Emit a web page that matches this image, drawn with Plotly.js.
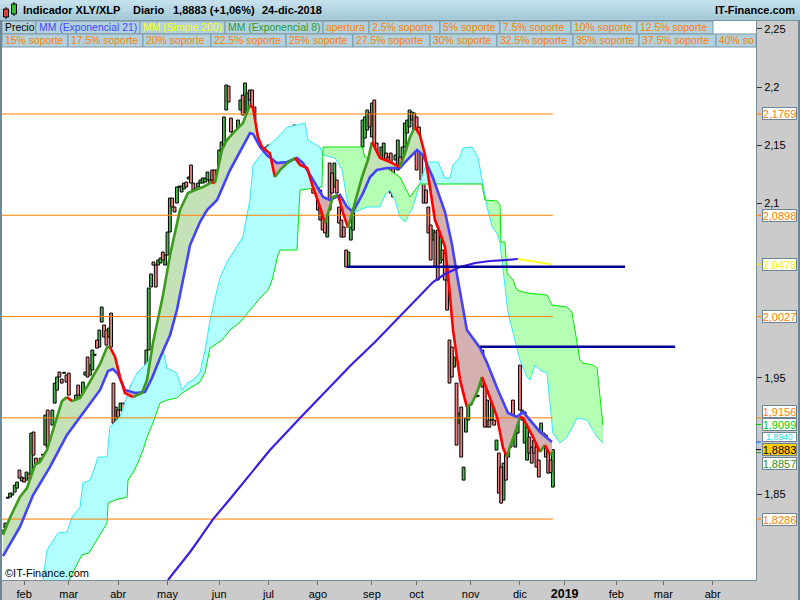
<!DOCTYPE html>
<html><head><meta charset="utf-8">
<script src="https://cdn.plot.ly/plotly-3.0.1.min.js"></script>
<style>html,body{margin:0;padding:0;background:#cbcbcb}#chart{width:800px;height:600px}</style>
</head><body><div id="chart"></div><script>
// ---------------- DATA ----------------
// daily bars, index 0 = 19-ene-2018 ... 234 = 24-dic-2018 (trading-day index)
const opens = [
1.8165,1.8208,1.8465,1.8475,1.8492,1.8518,1.8552,1.8707,1.8613,1.8638,
1.8621,1.8673,1.8638,1.9034,1.8810,1.8690,1.8810,1.8834,1.8922,1.9223,
1.8922,1.9094,1.9283,1.9395,1.9550,1.9490,1.9539,1.9524,1.9541,1.9223,
1.9206,1.9292,1.9438,1.9266,1.9266,1.9524,1.9679,1.9524,1.9567,1.9694,
1.9825,1.9765,1.9980,1.9954,1.9911,1.9851,2.0057,1.9455,1.9034,1.9223,
1.9223,1.9283,1.9223,1.9223,1.9283,1.9438,1.9395,1.9395,1.9335,1.9455,
1.9163,1.9567,1.9739,2.0281,2.0496,2.0470,2.0470,2.0487,2.0582,2.0470,
2.0556,2.0754,2.1046,2.0969,2.1003,2.1139,2.1098,2.1124,2.1184,2.1210,
2.1330,2.1175,2.1132,2.1141,2.1175,2.1175,2.1184,2.1201,2.1201,2.1287,
2.1287,2.1201,2.1313,2.1442,2.1485,2.1803,2.2009,2.1734,2.1614,2.1614,
2.1588,2.1803,2.1932,2.1777,2.1777,2.1975,2.1975,2.1829,2.1347,2.1055,
2.1330,2.1347,2.1313,2.1502,2.1390,2.1433,2.1003,2.1201,2.1347,2.1313,
2.1502,2.1373,2.1442,2.1442,2.1674,2.1227,2.1416,2.1373,2.1347,2.1261,
2.1201,2.1287,2.1261,2.1175,2.1201,2.1115,2.1029,2.0840,2.0711,2.1347,
2.1261,2.1141,2.1201,2.0969,2.0857,2.0797,2.0599,2.0453,2.0685,2.0771,
2.1115,2.1261,2.1175,2.1485,2.1562,2.1631,2.1777,2.1571,2.1889,2.1519,
2.1399,2.1347,2.1356,2.1433,2.1399,2.1433,2.1313,2.1373,2.1287,2.1399,
2.1347,2.1485,2.1605,2.1657,2.1717,2.1777,2.1743,2.1657,2.1459,2.1175,
2.1115,2.0969,2.0814,2.0685,2.0754,2.0771,2.0487,2.0599,2.0573,2.0341,
1.9825,1.9765,1.9593,1.9455,1.9111,1.9249,1.8621,1.9034,1.9137,1.9266,
1.9593,1.9567,1.9341,1.9481,1.9739,1.9593,1.9077,1.9137,1.9137,1.9137,
1.8879,1.8853,1.8733,1.8449,1.8939,1.8819,1.8905,1.9309,1.8905,1.9025,
1.9610,1.9223,1.8939,1.8793,1.8991,1.8905,1.8965,1.8905,1.8793,1.8879,
1.9025,1.9008,1.8965,1.8793,1.8561];
const closes = [
1.8191,1.8251,1.8470,1.8509,1.8509,1.8578,1.8604,1.8638,1.8647,1.8604,
1.8690,1.8638,1.9025,1.8836,1.8681,1.8776,1.8767,1.8838,1.9180,1.8896,
1.8853,1.9223,1.9455,1.9507,1.9507,1.9455,1.9543,1.9464,1.9352,1.9180,
1.9232,1.9352,1.9352,1.9352,1.9464,1.9550,1.9507,1.9610,1.9739,1.9698,
1.9756,1.9911,2.0109,1.9851,1.9782,1.9928,1.9765,1.9111,1.9249,1.9163,
1.9283,1.9206,1.9283,1.9180,1.9369,1.9335,1.9335,1.9455,1.9550,1.9197,
1.9481,1.9739,2.0272,2.0393,2.0470,2.0281,2.0513,2.0530,2.0513,2.0556,
2.0754,2.1046,2.0969,2.0926,2.1141,2.1143,2.1150,2.1175,2.1141,2.1227,
2.1175,2.1115,2.1055,2.1175,2.1201,2.1218,2.1218,2.1270,2.1175,2.1201,
2.1055,2.1287,2.1459,2.1528,2.1743,2.2018,2.1872,2.1614,2.1571,2.1571,
2.1717,2.1889,2.1760,2.2035,2.1949,2.1889,2.1743,2.1717,2.1003,2.1227,
2.1201,2.1201,2.1485,2.1373,2.1485,2.1201,2.1201,2.1347,2.1459,2.1502,
2.1390,2.1519,2.1373,2.1545,2.1485,2.1459,2.1330,2.1227,2.1201,2.1141,
2.1313,2.1201,2.1089,2.1287,2.0943,2.0857,2.0771,2.0746,2.0926,2.0943,
2.1089,2.1347,2.1089,2.0831,2.0711,2.0711,2.0453,2.0582,2.0797,2.0969,
2.1261,2.1089,2.1347,2.1717,2.1743,2.1803,2.1657,2.1863,2.1399,2.1347,
2.1261,2.1485,2.1519,2.1287,2.1330,2.1089,2.1055,2.1416,2.1545,2.1313,
2.1485,2.1691,2.1717,2.1803,2.1786,2.1631,2.1287,2.1502,2.1201,2.1003,
2.1003,2.0746,2.0513,2.0771,2.0453,2.0341,2.0711,2.0513,2.0341,2.0083,
1.9455,1.9507,1.9679,1.8922,1.9197,1.8819,1.8733,1.9154,1.9266,1.9369,
1.9369,1.9335,1.9345,1.9756,1.9421,1.9077,1.9309,1.9077,1.9369,1.9094,
1.8965,1.8509,1.8423,1.8767,1.8621,1.9025,1.9008,1.9111,1.9025,1.9137,
1.9223,1.9137,1.9206,1.9077,1.8853,1.8767,1.8853,1.8733,1.8647,1.9111,
1.8965,1.8819,1.8681,1.8685,1.8883];

// MM (Exponencial 8)
const ema8Idx = [0,3,7.2,10.2,13.6,15.7,18.7,22.1,25.1,27.2,29.4,32.8,36.2,41.3,44.3,45.5,47.7,49.8,51.9,55.3,
59.1,61.3,63.8,68.1,71.1,75.3,78.7,81.7,85.1,88.9,90.2,93.2,95.3,97.9,102.1,105.1,106.4,108.5,110.2,113.6,
115.7,117.9,120.9,124.3,126.4,129.4,131.9,134.9,137,138.3,140.4,142.6,144.7,146.8,148.9,152.8,155.3,157,160.4,164.7,
168.9,171.1,173.2,175.3,177.4,179.6,181.7,183.8,186,188.1,189.4,191.5,194.5,197.4,199.6,202.1,203.8,206,210.2,212.8,
214.5,215.7,217.9,220,221.3,225.5,228.5,230.6,232.8,234];
const ema8Val = [1.815,1.830,1.8476,1.8553,1.8751,1.8777,1.888,1.9112,1.930,1.9335,1.930,1.9327,1.9439,1.962,1.9765,1.9765,1.968,1.9507,1.937,1.9335,
1.937,1.9482,1.980,2.0212,2.0556,2.0943,2.109,2.1115,2.1141,2.1184,2.1175,2.146,2.1545,2.1605,2.1691,2.1846,2.182,2.157,2.1485,2.143,
2.1227,2.1287,2.1347,2.139,2.133,2.1305,2.1141,2.097,2.0831,2.0918,2.1055,2.1072,2.0918,2.079,2.0943,2.1227,2.1373,2.1528,2.139,2.1356,
2.1313,2.1433,2.1571,2.1657,2.1588,2.1416,2.1115,2.0857,2.0746,2.0625,2.0385,1.9911,1.948,1.9249,1.9284,1.9396,1.9507,1.9396,1.9164,1.8897,
1.882,1.8906,1.9026,1.9164,1.9155,1.8992,1.8862,1.8922,1.8837,1.8862];

// MM (Exponencial 21)
const ema21Idx = [0,7.2,12.8,20,27.2,34,41.3,44.7,46.8,48.9,51.9,56.2,60.4,63.4,66.8,71.1,74,79.6,83.8,86.8,
91.1,96.6,102.1,105.1,106.4,109.4,112.3,116.6,120.9,125.1,127.7,131.9,136.2,139.1,143.4,146.4,148.9,153.2,156.2,159.1,
163.4,168.9,171.9,176.2,178.7,183,188.1,191.1,193.2,197.4,203,206,210.6,214.9,218.7,221.3,224.3,228.5,233.6];
const ema21Val = [1.7968,1.8218,1.8493,1.8734,1.9009,1.9198,1.9396,1.9559,1.9576,1.9533,1.9396,1.9370,1.9378,1.9499,1.9671,1.9869,2.0083,2.0642,2.0840,2.0943,
2.1029,2.1287,2.1485,2.1605,2.1597,2.1485,2.1416,2.1347,2.1356,2.1390,2.1347,2.1201,2.1055,2.1029,2.1072,2.0969,2.0926,2.1089,2.1227,2.1287,
2.1304,2.1304,2.1373,2.1459,2.1416,2.1218,2.0926,2.0642,2.0384,1.9912,1.9757,1.9628,1.9396,1.9198,1.9164,1.9207,1.9138,1.9035,1.8949];

// MM (Simple 200)
const sma200Idx = [70.2,75.3,79.6,83.8,89.4,96.6,105.1,113.6,126.4,137,147.7,158.3,168.9,177.4,183,188.1,194.5,200.9,207.2,213.6,219.1,224.3,229.4,233.6];
const sma200Val = [1.7762,1.7891,1.8003,1.8123,1.8286,1.8458,1.8673,1.8880,1.9155,1.9378,1.9602,1.9808,2.0032,2.0204,2.0324,2.0393,2.0453,2.0488,2.0505,2.0513,2.0522,2.0505,2.0488,2.0475];

// cloud: cyan line and green line (projected forward)
const cloudCyanIdx = [17.0,18.7,23.4,27.2,29.4,32.8,34.0,37.0,39.1,40.4,44.3,45.5,49.8,54.0,57.0,61.3,63.8,66.8,68.1,69.8,
74.0,76.2,78.3,80.9,83.8,86.0,88.1,90.2,92.3,95.3,97.9,102.1,103.8,105.1,106.4,112.3,116.6,120.9,125.1,128.5,
129.8,134.9,136.2,141.3,144.3,146.4,148.5,151.9,154.9,160.4,162.6,164.7,166.8,168.9,171.1,174.5,177.4,180.4,185.1,188.1,
190.2,191.5,194.5,195.7,199.6,202.1,203.8,206.0,208.1,210.2,211.5,212.8,214.9,220.0,223.0,224.3,226.4,228.5,231.5,234.0,
237.0,240.0,244.3,248.5,252.8,255.3];
const cloudCyanVal = [1.7762,1.8020,1.8166,1.8174,1.8303,1.8389,1.8596,1.8621,1.8733,1.8819,1.8819,1.9077,1.9163,1.9421,1.9541,1.9627,1.9713,1.9765,1.9739,1.9584,
1.9541,1.9395,1.9455,1.9481,1.9541,1.9739,1.9997,2.0169,2.0358,2.0496,2.0582,2.0711,2.0900,2.1029,2.1330,2.1485,2.1562,2.1657,2.1674,2.1691,
2.1545,2.1485,2.1416,2.1390,2.1287,2.1029,2.0917,2.0943,2.0969,2.0969,2.1072,2.1115,2.1029,2.0883,2.0840,2.0969,2.1175,2.1356,2.1356,2.1218,
2.1218,2.1330,2.1399,2.1476,2.1485,2.1399,2.1201,2.0969,2.0797,2.0745,2.0659,2.0427,2.0058,1.9653,1.9507,1.9481,1.9610,1.9567,1.9541,1.9026,
1.8940,1.8991,1.9155,1.9137,1.8991,1.8940];
const cloudGreenIdx = [28.1,33.6,36.6,38.7,40.0,44.3,44.7,47.7,52.8,53.2,55.3,57.4,59.6,61.3,63.8,66.8,69.8,74.0,76.2,78.3,
80.9,83.8,86.0,88.1,93.2,96.6,100.9,105.1,109.4,112.8,114.5,117.0,117.9,125.1,126.4,135.7,136.2,152.8,154.0,157.0,
162.6,168.9,171.1,173.2,175.3,177.4,203.8,205.1,210.2,211.5,211.9,213.6,214.5,217.0,218.7,223.0,231.5,233.6,240.0,242.1,
243.4,245.5,246.8,251.1,252.8,255.3];
const cloudGreenVal = [1.7762,1.7977,1.7994,1.8063,1.8106,1.8252,1.8424,1.8450,1.8475,1.8621,1.8682,1.8768,1.8880,1.8991,1.9112,1.9284,1.9309,1.9327,1.9369,1.9395,
1.9421,1.9464,1.9550,1.9756,1.9825,1.9911,1.9980,2.0083,2.0186,2.0255,2.0341,2.0556,2.0599,2.0599,2.1115,2.1141,2.1485,2.1485,2.1399,2.1373,
2.1313,2.1227,2.1141,2.1055,2.1115,2.1167,2.1167,2.1029,2.1021,2.0986,2.0668,2.0668,2.0401,2.0341,2.0255,2.0229,2.0212,2.0126,2.0109,2.0066,
1.9911,1.9653,1.9627,1.9610,1.9584,1.9094];

// "apertura" / "soporte" levels
const levelVals = [2.1769, 2.0898, 2.0027, 1.9156, 1.8286];
// drawn support lines
const trendVals = [2.0456, 1.9768];
const trendFrom = [146.3, 203];
const trendTo   = [264.7, 286];

// axis labels boxes on the price scale
const tagVals = [2.1769, 2.0898, 2.0478, 2.0027, 1.9156, 1.9099, 1.8940, 1.8857, 1.8883, 1.8286];

// tick labels
const monthTickIdx  = [9,28,49,70,92,113,134,157,176,199,220,239,261,281,302];
const monthTickText = ['feb','mar','abr','may','jun','jul','ago','sep','oct','nov','dic','<b style="font-size:12.5px">2019</b>','feb','mar','abr'];
const priceTicks     = [1.85, 1.95, 2.1, 2.15, 2.2, 2.25];
const priceTickText  = ['1,85','1,95','2,1','2,15','2,2','2,25'];

const legendRow1 = ['Precio','MM (Exponencial 21)','MM (Simple 200)','MM (Exponencial 8)','apertura','2.5% soporte','5% soporte','7.5% soporte','10% soporte','12.5% soporte'];
const legendRow2 = ['15% soporte','17.5% soporte','20% soporte','22.5% soporte','25% soporte','27.5% soporte','30% soporte','32.5% soporte','35% soporte','37.5% soporte','40% so'];

// ---------------- LAYOUT / STYLE ----------------
const Y_MIN = 1.7762, Y_MAX = 2.2577;
const X_MIN = -0.4255, X_MAX = 320.43;
const ORANGE = '#ff8000';
const FONT = 'Liberation Sans, Arial, sans-serif';
const PX = p => (p - 2) / 754;          // pixel x -> paper
const PY = p => (580 - p) / 560;        // pixel y -> paper

function interp(xs, ys, x) {
  if (x < xs[0] - 1e-9 || x > xs[xs.length - 1] + 1e-9) return null;
  for (let k = 1; k < xs.length; k++) {
    if (x <= xs[k]) {
      const x0 = xs[k-1], x1 = xs[k];
      if (x1 === x0) return ys[k];
      const t = (x - x0) / (x1 - x0);
      return ys[k-1] + t * (ys[k] - ys[k-1]);
    }
  }
  return ys[ys.length - 1];
}

function bandFills(xa, ya, xb, yb, start, end, colPos, colNeg, floorVal) {
  const grid = new Set();
  for (let x = start; x <= end + 1e-9; x += 0.25) grid.add(+x.toFixed(3));
  xa.concat(xb).forEach(x => { if (x >= start && x <= end) grid.add(x); });
  grid.add(end);
  const xs = [...grid].sort((p, q) => p - q);
  const pts = xs.map(x => {
    let a = interp(xa, ya, x), b = interp(xb, yb, x);
    if (a === null) a = floorVal; if (b === null) b = floorVal;
    return {x, a, b};
  });
  const polys = [];
  let cur = [pts[0]];
  let sgn = Math.sign(pts[0].a - pts[0].b) || 1;
  for (let k = 1; k < pts.length; k++) {
    const p = pts[k], q = pts[k-1];
    const d = p.a - p.b;
    const s = d === 0 ? sgn : Math.sign(d);
    if (s !== sgn) {
      const dq = q.a - q.b;
      const t = dq / (dq - d);
      const cx = q.x + t * (p.x - q.x);
      const cy = q.a + t * (p.a - q.a);
      const c = {x: cx, a: cy, b: cy};
      cur.push(c); polys.push({s: sgn, pts: cur});
      cur = [c]; sgn = s;
    }
    cur.push(p);
  }
  polys.push({s: sgn, pts: cur});
  return polys.map(pg => {
    const fx = pg.pts.map(p => p.x), fa = pg.pts.map(p => p.a), fb = pg.pts.map(p => p.b);
    return {type: 'scatter', mode: 'lines', x: fx.concat(fx.slice().reverse()), y: fa.concat(fb.slice().reverse()),
      fill: 'toself', fillcolor: pg.s > 0 ? colPos : colNeg, line: {width: 0}, hoverinfo: 'skip'};
  });
}

function slopeLines(xs, ys, upColor, downColor, width) {
  const runs = [];
  let cx = [xs[0]], cy = [ys[0]], dir = null;
  for (let k = 1; k < xs.length; k++) {
    const d = ys[k] >= ys[k-1] ? 1 : -1;
    if (dir === null) dir = d;
    if (d !== dir) { runs.push({x: cx, y: cy, dir}); cx = [xs[k-1]]; cy = [ys[k-1]]; dir = d; }
    cx.push(xs[k]); cy.push(ys[k]);
  }
  runs.push({x: cx, y: cy, dir});
  return runs.map(r => ({type: 'scatter', mode: 'lines', x: r.x, y: r.y,
    line: {color: r.dir > 0 ? upColor : downColor, width}, hoverinfo: 'skip'}));
}

const traces = [];
// cloud fill
traces.push(...bandFills(cloudCyanIdx, cloudCyanVal, cloudGreenIdx, cloudGreenVal, 17, 255.3, '#b2ffff', '#b4ffb4', 1.70));
traces.push({type:'scatter', mode:'lines', x: cloudCyanIdx, y: cloudCyanVal, line:{color:'#33e8f0', width:1}, hoverinfo:'skip'});
traces.push({type:'scatter', mode:'lines', x: cloudGreenIdx, y: cloudGreenVal, line:{color:'#00e400', width:1}, hoverinfo:'skip'});
// EMA band
traces.push(...bandFills(ema8Idx, ema8Val, ema21Idx, ema21Val, 0, 233.6, '#c5e1b8', '#d4b0b0', 1.70));
// levels
levelVals.forEach(v => traces.push({type:'scatter', mode:'lines', x:[X_MIN, opens.length - 1], y:[v, v], line:{color: ORANGE, width:1}, hoverinfo:'skip'}));
// candles
const up = {x:[], base:[], y:[]}, dn = {x:[], base:[], y:[]};
opens.forEach((o, i) => {
  const c = closes[i];
  const tgt = c >= o ? up : dn;
  tgt.x.push(i); tgt.base.push(Math.min(o, c)); tgt.y.push(Math.max(Math.abs(c - o), 0.0009));
});
traces.push({type:'bar', x: up.x, base: up.base, y: up.y, width: 1.2, marker:{color:'#4cb84c', line:{color:'#000', width:1}}, hoverinfo:'skip'});
traces.push({type:'bar', x: dn.x, base: dn.base, y: dn.y, width: 1.2, marker:{color:'#ee8080', line:{color:'#000', width:1}}, hoverinfo:'skip'});
// EMA21
traces.push({type:'scatter', mode:'lines', x: ema21Idx, y: ema21Val, line:{color:'#4343ff', width:2.6}, hoverinfo:'skip'});
// EMA8 (green rising / red falling)
traces.push(...slopeLines(ema8Idx, ema8Val, '#3c9a1c', '#ff0000', 2.6));
// SMA200 (blue rising / yellow falling)
traces.push(...slopeLines(sma200Idx, sma200Val, '#3a1ee6', '#ffff22', 2.2));
// support lines
trendVals.forEach((v, k) => traces.push({type:'scatter', mode:'lines', x:[trendFrom[k], trendTo[k]], y:[v, v], line:{color:'#00009a', width:2.4}, hoverinfo:'skip'}));

// ---- shapes ----
const shapes = [];
const rectPx = (x0, y0, x1, y1, fill, line, lw) => shapes.push({type:'rect', xref:'paper', yref:'paper', x0:PX(x0), x1:PX(x1), y0:PY(y1), y1:PY(y0), fillcolor: fill, line:{color: line || fill, width: lw === undefined ? 0 : lw}, layer:'above'});
const linePx = (x0, y0, x1, y1, color, w) => shapes.push({type:'line', xref:'paper', yref:'paper', x0:PX(x0), x1:PX(x1), y0:PY(y0), y1:PY(y1), line:{color, width:w}, layer:'above'});
// header gradient
const hdr = ['#c4e0ea','#bcdbe6','#b4d5e1','#accfdc','#a6cad8'];
hdr.forEach((c, k) => rectPx(0, k*4, 800, k*4 + 4.2, c));
linePx(0, 20.5, 800, 20.5, '#7d93a0', 1);
// legend rows
const row1Edges = [2,36,140,225,323,369,440,500,571,637,713];
const row2Edges = [2,68,143,211,286,353,430,497,573,639,716,756];
for (let k = 0; k < legendRow1.length; k++) rectPx(row1Edges[k], 21, row1Edges[k+1], 34, '#b0d1dd', '#7f97a5', 1);
for (let k = 0; k < legendRow2.length; k++) rectPx(row2Edges[k], 34, row2Edges[k+1], 47, '#b0d1dd', '#7f97a5', 1);
// icon
linePx(6, 7, 6, 19, '#000', 1); rectPx(3.5, 9, 8.5, 17, '#e04040', '#000', 1);
linePx(14, 2, 14, 16, '#000', 1); rectPx(11.5, 4, 16.5, 14, '#30c030', '#000', 1);
// borders
linePx(1, 20, 1, 600, '#6f8796', 2);
linePx(799, 20, 799, 600, '#6f8796', 2);
// colored ticks on price scale
const tagStyle = [
  {c: ORANGE}, {c: ORANGE}, {c:'#f0f000'}, {c: ORANGE}, {c: ORANGE, dy: 6},
  {c:'#00cc00'}, {c:'#20dede', dy: 5.5, size: 8.5, h: 8}, {c:'#2f8f2f', dy: -10.5}, {c:'#000000', bg:'#ffcc00'}, {c: ORANGE}
];
tagVals.forEach((v, k) => shapes.push({type:'line', xref:'paper', yref:'y', x0:1, x1:1 + 5/754, y0:v, y1:v, line:{color: tagStyle[k].c === '#000000' ? '#000' : tagStyle[k].c, width:1}, layer:'above'}));
shapes.push({type:'line', xref:'paper', yref:'y', x0:1, x1:1 + 5/754, y0:ema21Val[ema21Val.length-1], y1:ema21Val[ema21Val.length-1], line:{color:'#4343ff', width:1}, layer:'above'});

// ---- annotations ----
const annotations = [];
const txt = (text, xpx, ypx, opts) => annotations.push(Object.assign({text, xref:'paper', yref:'paper', x:PX(xpx), y:PY(ypx), xanchor:'left', yanchor:'middle', showarrow:false, font:{family:FONT, size:11, color:'#000'}}, opts || {}));
const fmt = v => v.toFixed(4).replace('.', ',');
const lastClose = closes[closes.length - 1], prevClose = closes[closes.length - 2];
const chg = ((lastClose / prevClose - 1) * 100).toFixed(2).replace('.', ',');
txt('<b>Indicador XLY/XLP</b>', 21, 10.5);
txt('<b>Diario</b>', 131, 10.5);
txt('<b>' + fmt(lastClose) + ' (+' + chg + '%)</b>', 171, 10.5);
txt('<b>24-dic-2018</b>', 260, 10.5);
txt('<b>IT-Finance.com</b>', 797, 10.5, {xanchor:'right'});
const row1Colors = ['#000000','#4646ff','#ffff00','#2e9a2e'];
legendRow1.forEach((t, k) => txt(t, row1Edges[k] + 1, 27.8, {font:{family:FONT, size:10.4, color: row1Colors[k] || ORANGE}}));
legendRow2.forEach((t, k) => txt(t, row2Edges[k] + 1, 40.8, {font:{family:FONT, size:10.4, color: ORANGE}}));
txt('©IT-Finance.com', 2.5, 573, {font:{family:FONT, size:11, color:'#000'}});
tagVals.forEach((v, k) => {
  const st = tagStyle[k];
  annotations.push({text: fmt(v), xref:'paper', yref:'y', x:1, y:v, xanchor:'left', yanchor:'middle', xshift:5.5, yshift: st.dy || 0,
    showarrow:false, bgcolor: st.bg || '#ffffff', bordercolor:'#6c8494', borderwidth:1, borderpad:0, width:33, height: st.h || 11,
    font:{family:FONT, size: st.size || 11, color: st.c}});
});

const layout = {
  width: 800, height: 600,
  margin: {l: 2, r: 44, t: 20, b: 20, pad: 0},
  paper_bgcolor: '#cbcbcb', plot_bgcolor: '#ffffff',
  showlegend: false, barmode: 'overlay',
  font: {family: FONT, size: 11, color: '#000'},
  xaxis: {range: [X_MIN, X_MAX], tickmode: 'array', tickvals: monthTickIdx, ticktext: monthTickText,
    ticks: 'outside', ticklen: 4, tickcolor: '#6a6a6a', showgrid: false, zeroline: false,
    showline: true, linecolor: '#7a8d9a', linewidth: 1, tickfont: {family: FONT, size: 11, color: '#000'}},
  yaxis: {side: 'right', range: [Y_MIN, Y_MAX], tickmode: 'array', tickvals: priceTicks, ticktext: priceTickText,
    ticks: 'outside', ticklen: 5, tickcolor: '#333', showgrid: false, zeroline: false,
    showline: true, linecolor: '#7a8d9a', linewidth: 1, tickfont: {family: FONT, size: 11, color: '#000'}},
  shapes, annotations
};

Plotly.newPlot('chart', traces, layout, {staticPlot: true, displayModeBar: false});
</script></body></html>
